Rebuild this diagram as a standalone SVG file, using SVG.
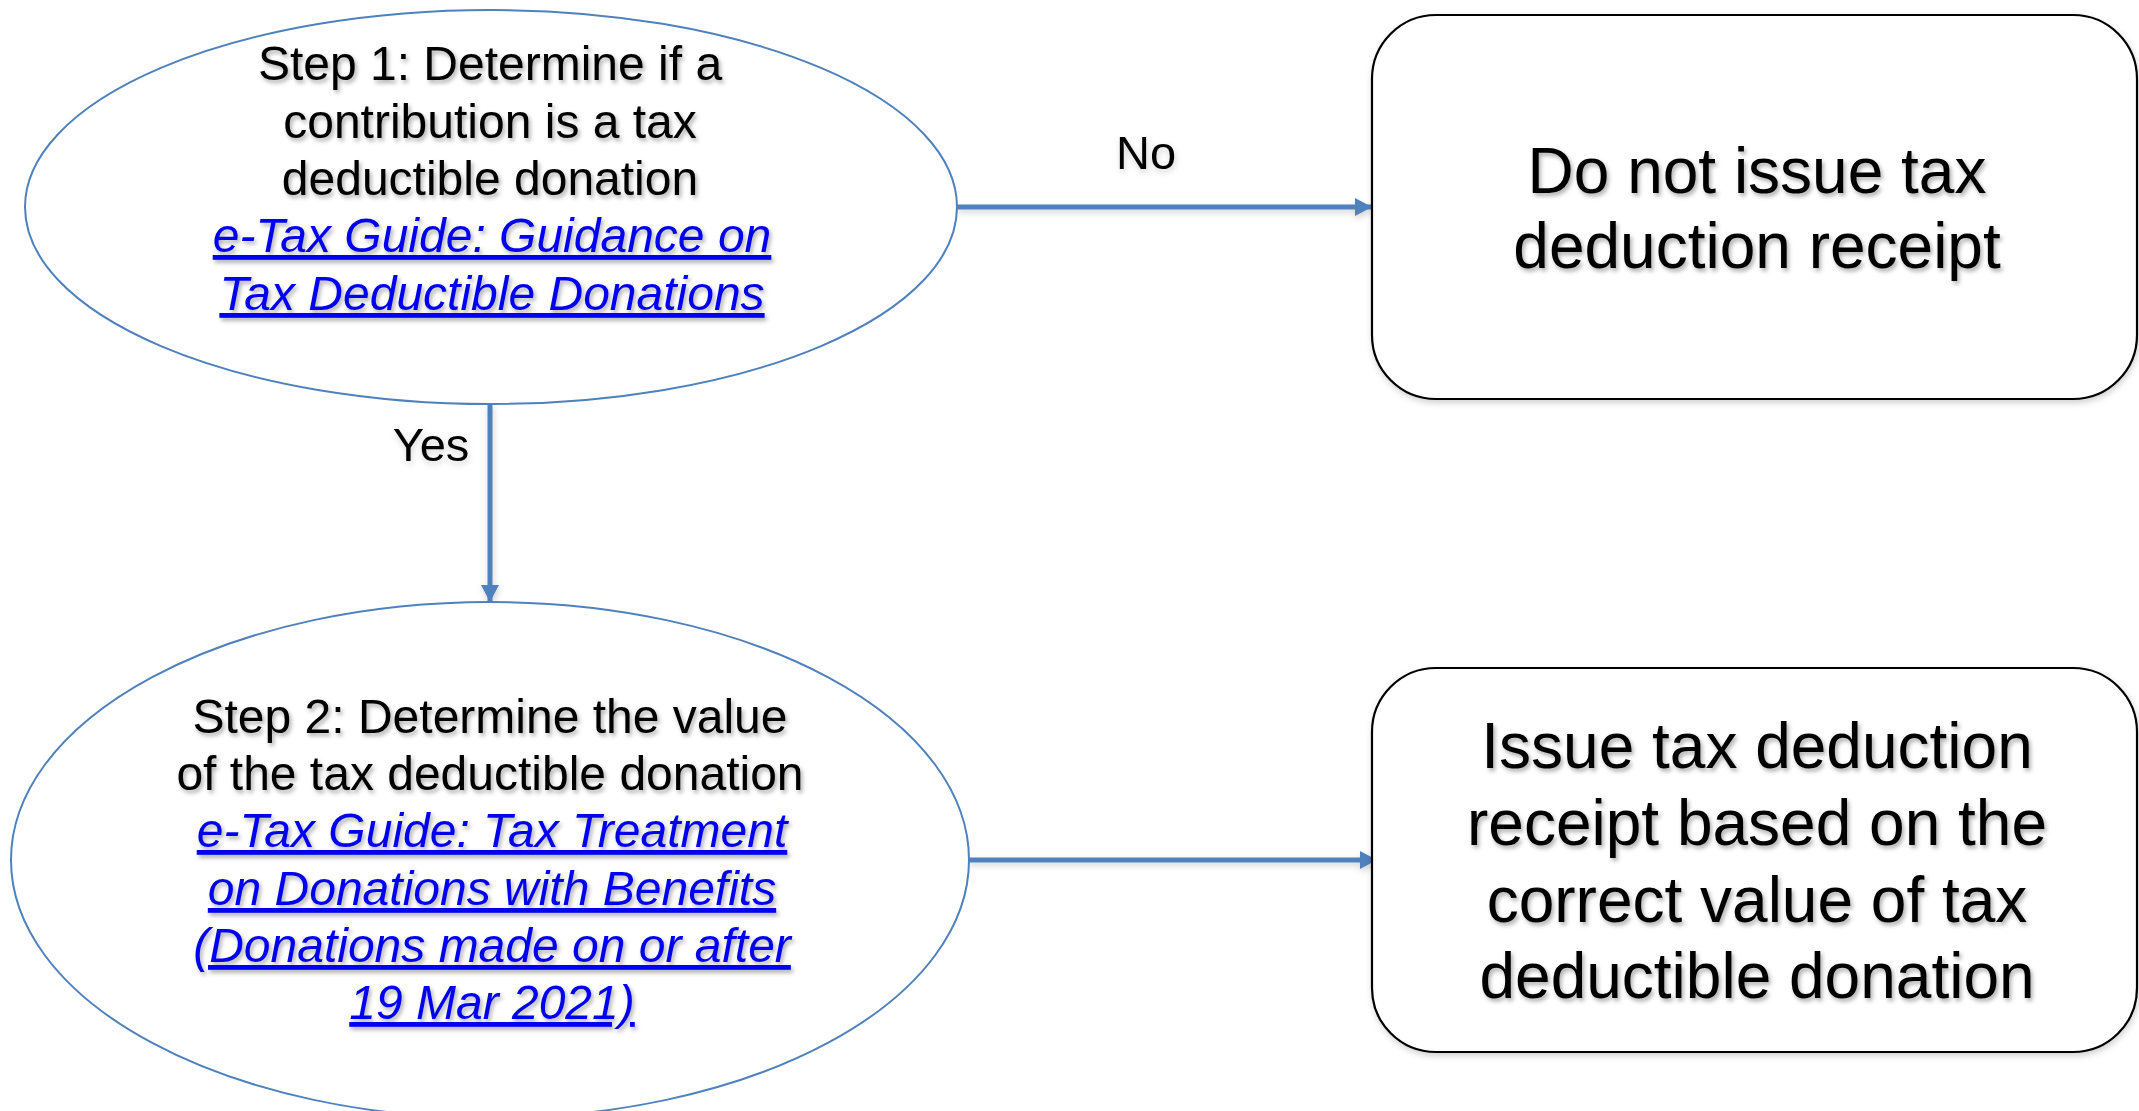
<svg xmlns="http://www.w3.org/2000/svg" width="2139" height="1111" viewBox="0 0 2139 1111">
<style>
.ell{fill:#ffffff;stroke:#4F81BD;stroke-width:2}
.box{fill:#ffffff;stroke:#000000;stroke-width:2.2}
.t{font-family:"Liberation Sans",Arial,sans-serif;fill:#000000;text-anchor:middle}
.step{font-size:48px}
.big{font-size:64px}
.lbl{font-size:47px;font-family:"Liberation Sans",Arial,sans-serif;fill:#000000;text-anchor:middle}
.link{fill:#0000F0;font-style:italic;text-decoration:underline}
.conn{stroke:#4F81BD;stroke-width:5;fill:none}
</style>
<defs>
<filter id="sh" x="-10%" y="-10%" width="120%" height="130%">
<feDropShadow dx="2" dy="3" stdDeviation="2" flood-color="#000000" flood-opacity="0.32"/>
</filter>
<filter id="bsh" x="-5%" y="-5%" width="110%" height="115%">
<feDropShadow dx="1" dy="3" stdDeviation="3" flood-color="#000000" flood-opacity="0.18"/>
</filter>
<marker id="arr" markerUnits="userSpaceOnUse" markerWidth="19" markerHeight="19" refX="17" refY="9" orient="auto">
<path d="M0,0 L17,9 L0,18 Z" fill="#4F81BD"/>
</marker>
</defs>
<rect x="0" y="0" width="2139" height="1111" fill="#ffffff"/>

<g id="connectors" filter="url(#bsh)">
<line class="conn" x1="956" y1="207" x2="1372" y2="207" marker-end="url(#arr)"/>
<line class="conn" x1="490" y1="404" x2="490" y2="602" marker-end="url(#arr)"/>
<line class="conn" x1="968" y1="860" x2="1377" y2="860" marker-end="url(#arr)"/>
<text class="lbl" x="1146" y="169">No</text>
<text class="lbl" x="431" y="461">Yes</text>
</g>

<g id="step1">
<ellipse class="ell" cx="491" cy="207" rx="466" ry="197"/>
<g class="t step" filter="url(#sh)">
<text x="490" y="80">Step 1: Determine if a</text>
<text x="490" y="138">contribution is a tax</text>
<text x="490" y="195">deductible donation</text>
<text class="link" x="492" y="252">e-Tax Guide: Guidance on</text>
<text class="link" x="492" y="310">Tax Deductible Donations</text>
</g>
</g>

<g id="step2">
<ellipse class="ell" cx="490" cy="860" rx="479" ry="258"/>
<g class="t step" filter="url(#sh)">
<text x="490" y="733">Step 2: Determine the value</text>
<text x="490" y="790">of the tax deductible donation</text>
<text class="link" x="492" y="847">e-Tax Guide: Tax Treatment</text>
<text class="link" x="492" y="905">on Donations with Benefits</text>
<text class="link" x="492" y="962">(Donations made on or after</text>
<text class="link" x="492" y="1019">19 Mar 2021)</text>
</g>
</g>

<g id="no-receipt">
<rect class="box" x="1372" y="15" width="765" height="384" rx="64" ry="64" filter="url(#bsh)"/>
<g class="t big" filter="url(#sh)">
<text x="1757" y="193">Do not issue tax</text>
<text x="1757" y="268">deduction receipt</text>
</g>
</g>

<g id="issue-receipt">
<rect class="box" x="1372" y="668" width="765" height="384" rx="64" ry="64" filter="url(#bsh)"/>
<g class="t big" filter="url(#sh)">
<text x="1757" y="768">Issue tax deduction</text>
<text x="1757" y="845">receipt based on the</text>
<text x="1757" y="922">correct value of tax</text>
<text x="1757" y="998">deductible donation</text>
</g>
</g>
</svg>
